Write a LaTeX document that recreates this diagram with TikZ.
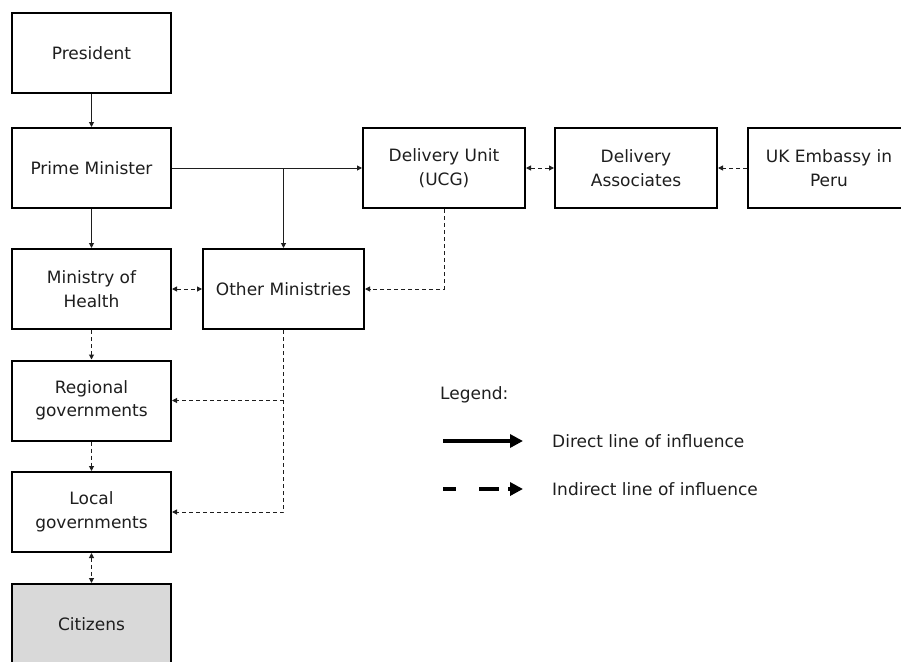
\documentclass[tikz,border=0pt]{standalone}
\usepackage{fontspec}
\setmainfont{DejaVu Sans}
\usetikzlibrary{arrows.meta}
\definecolor{ink}{HTML}{1E1E1E}
\definecolor{citfill}{HTML}{D9D9D9}
\begin{document}
\begin{tikzpicture}[x=1pt,y=-1pt,
  box/.style={draw=black, line width=2pt, fill=white, minimum width=159pt,
    minimum height=80pt, align=center, inner sep=0pt, text=ink,
    font=\fontsize{17}{23.5}\selectfont},
  widebox/.style={box, minimum width=162pt},
  tip/.tip={Triangle[length=5pt,width=5pt]},
  direct/.style={draw=ink, line width=1pt, -tip},
  indirect/.style={direct, dash pattern=on 4pt off 3pt},
  twoway/.style={tip-tip},
  legtext/.style={anchor=west, inner sep=0pt, text=ink, font=\fontsize{17}{20}\selectfont},
  bigtip/.tip={Triangle[length=13pt,width=13pt]},
]
\useasboundingbox (0,0) rectangle (901,661);

% left column
\node[box] (pres) at (91.5,53) {President};
\node[box] (pm)   at (91.5,168) {Prime Minister};
\node[box] (moh)  at (91.5,289) {Ministry of\\Health};
\node[box] (reg)  at (91.5,400.5) {Regional\\governments};
\node[box] (loc)  at (91.5,512) {Local\\governments};
\node[box, fill=citfill] (cit) at (91.5,624) {Citizens};

% central and top-right boxes
\node[box, minimum width=161pt] (om) at (283.5,289) {Other Ministries};
\node[widebox] (du) at (444,168) {Delivery Unit\\(UCG)};
\node[widebox] (da) at (636,168) {Delivery\\Associates};
\node[widebox] (uk) at (829,168) {UK Embassy in\\Peru};

% direct lines
\draw[direct] (pres) -- (pm);
\draw[direct] (pm) -- (moh);
\draw[direct] (pm.east) -- (du.west);
\coordinate (pmj) at (om.north |- pm.east);
\draw[direct] (pmj) -- (om.north);

% indirect lines
\draw[indirect, twoway] (moh.east) -- (om.west);
\draw[indirect] (du.south) |- (om.east);
\draw[indirect, twoway] (du.east) -- (da.west);
\draw[indirect] (uk.west) -- (da.east);
\draw[indirect] (moh) -- (reg);
\draw[indirect] (reg) -- (loc);
\draw[indirect, twoway] (loc) -- (cit);
\draw[indirect] (om.south) |- (loc.east);
\coordinate (omj) at (om.south |- reg.east);
\draw[indirect] (omj) -- (reg.east);

% legend
\node[legtext] (leg) at (440,395) {Legend:};
\coordinate (l1a) at (443,441);
\coordinate (l1b) at (523,441);
\coordinate (l2a) at (443,489);
\coordinate (l2b) at (523,489);
\draw[draw=black, line width=4pt, -bigtip] (l1a) -- (l1b);
\draw[draw=black, line width=4pt, -bigtip, dash pattern=on 13pt off 23pt on 20pt off 9pt] (l2a) -- (l2b);
\node[legtext] (ld) at (552,441) {Direct line of influence};
\node[legtext] (li) at (552,489) {Indirect line of influence};
\end{tikzpicture}
\end{document}
